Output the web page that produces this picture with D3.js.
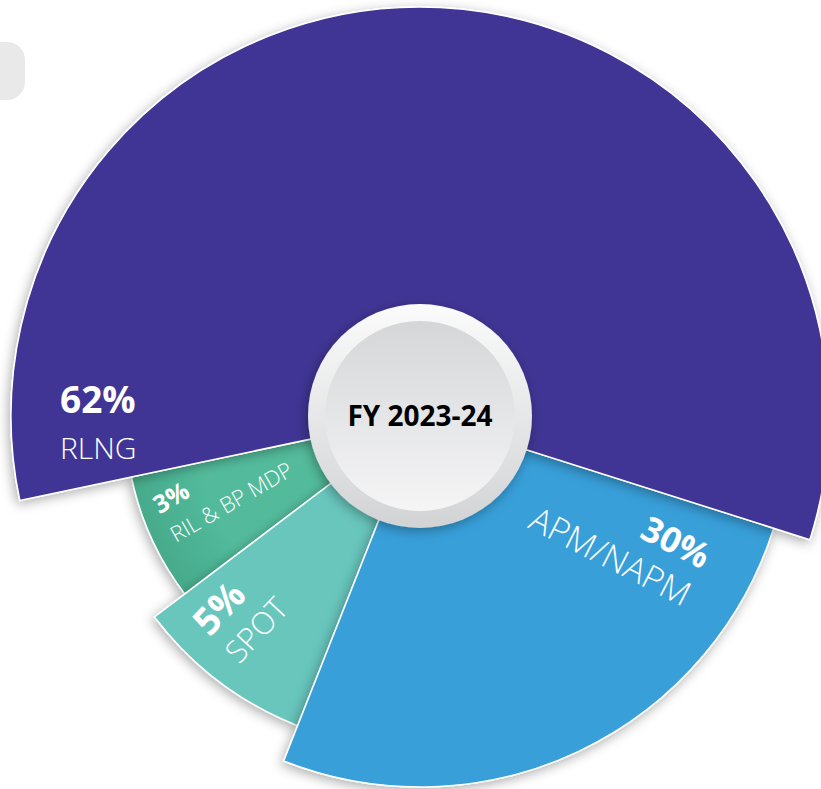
<!DOCTYPE html>
<html>
  <head>
    <style>
    body { margin: 0; background: #fff; }
    svg text { font-family: 'Open Sans', sans-serif; }
    </style>
  </head>
  <body>

    <svg width="821" height="789"></svg>

    <script src="https://cdn.jsdelivr.net/npm/d3@7/dist/d3.min.js"></script>
    <script>

      // data, clockwise from the RLNG / APM boundary
      const categories = ['APM/NAPM', 'SPOT', 'RIL & BP MDP', 'RLNG']
      const shares = [30, 5, 3, 62]
      const shareLabels = ['30%', '5%', '3%', '62%']
      // wedge widths as drawn in the picture (% of a full turn)
      const wedgeShares = [26.1, 8.7, 7.0, 58.2]
      const title = 'FY 2023-24'

      const colors = {
        'APM/NAPM': '#389fd9',
        'SPOT': '#67c6bd',
        'RIL & BP MDP': '#50b899',
        'RLNG': '#3f3594'
      }

      // label placement: anchor point, rotation, second-line offset
      const labelLayout = {
        'RLNG':         {x: 60,  y: 413, rot: 0,   anchor: 'start', pct: 37, name: 30, gap: 46,  pctFirst: true},
        'APM/NAPM':     {x: 683, y: 607, rot: 27,  anchor: 'end',   pct: 35, name: 34, gap: -42, pctFirst: false},
        'SPOT':         {x: 239, y: 665, rot: -47, anchor: 'start', pct: 38, name: 31, gap: -40, pctFirst: false},
        'RIL & BP MDP': {x: 176, y: 543, rot: -30, anchor: 'start', pct: 25, name: 22, gap: -33, pctFirst: false}
      }

      const svg = d3.select('svg')
      const cx = 420, cy = 416

      const data = categories.map((c, i) => ({
        name: c, value: shares[i], label: shareLabels[i], wedge: wedgeShares[i]
      }))

      const defs = svg.append('defs')
      const shadow = defs.append('filter').attr('id', 'shadow')
          .attr('x', '-30%').attr('y', '-30%').attr('width', '160%').attr('height', '160%')
      shadow.append('feDropShadow')
          .attr('dx', -2).attr('dy', 3).attr('stdDeviation', 6)
          .attr('flood-color', '#000').attr('flood-opacity', 0.32)

      const ringGrad = defs.append('linearGradient').attr('id', 'ring')
          .attr('x1', 0).attr('y1', 0).attr('x2', 0).attr('y2', 1)
      ringGrad.append('stop').attr('offset', '0%').attr('stop-color', '#fbfbfb')
      ringGrad.append('stop').attr('offset', '100%').attr('stop-color', '#d2d3d5')

      const discGrad = defs.append('linearGradient').attr('id', 'disc')
          .attr('x1', 0).attr('y1', 0).attr('x2', 0).attr('y2', 1)
      discGrad.append('stop').attr('offset', '0%').attr('stop-color', '#d5d6d8')
      discGrad.append('stop').attr('offset', '100%').attr('stop-color', '#f5f5f6')

      // darker rim on the small green wedge
      const rilGrad = defs.append('radialGradient').attr('id', 'rilGrad')
          .attr('gradientUnits', 'userSpaceOnUse').attr('cx', 0).attr('cy', 0).attr('r', 300)
      rilGrad.append('stop').attr('offset', '75%').attr('stop-color', '#52bb9b')
      rilGrad.append('stop').attr('offset', '100%').attr('stop-color', '#45a98a')

      // cropped grey tab in the top-left corner
      svg.append('rect')
          .attr('x', -20).attr('y', 42).attr('width', 45).attr('height', 58)
          .attr('rx', 18).attr('fill', '#e9e9ea')

      // outer radius by rank of share
      const rank = data.slice().sort((a, b) => a.value - b.value).map(d => d.name)
      const r = d3.scalePoint().domain(rank).range([295, 409])

      const pie = d3.pie()
          .sort(null)
          .value(d => d.wedge)
          .startAngle(107.6 * Math.PI / 180)
          .endAngle((107.6 + 360) * Math.PI / 180)

      const arc = d3.arc()
          .innerRadius(0)
          .outerRadius(d => r(d.data.name))

      const chart = svg.append('g')
          .attr('transform', 'translate(' + cx + ',' + cy + ')')

      const arcs = pie(data).sort((a, b) => a.data.value - b.data.value)

      chart.selectAll('.slice')
        .data(arcs, d => d.data.name)
        .enter().append('path')
          .attr('class', 'slice')
          .attr('d', arc)
          .attr('fill', d => d.data.name === 'RIL & BP MDP' ? 'url(#rilGrad)' : colors[d.data.name])
          .attr('stroke', '#fff')
          .attr('stroke-width', 1.5)
          .attr('stroke-linejoin', 'round')
          .attr('filter', 'url(#shadow)')

      // labels
      const labels = svg.selectAll('.label')
        .data(data)
        .enter().append('g')
          .attr('class', 'label')
          .attr('transform', d => {
            const l = labelLayout[d.name]
            return 'translate(' + l.x + ',' + l.y + ') rotate(' + l.rot + ')'
          })
          .attr('text-anchor', d => labelLayout[d.name].anchor)
          .attr('fill', '#fff')

      labels.append('text')
          .attr('y', d => labelLayout[d.name].pctFirst ? 0 : labelLayout[d.name].gap)
          .attr('font-size', d => labelLayout[d.name].pct)
          .attr('font-weight', 700)
          .text(d => d.label)

      labels.append('text')
          .attr('y', d => labelLayout[d.name].pctFirst ? labelLayout[d.name].gap : 0)
          .attr('font-size', d => labelLayout[d.name].name)
          .attr('font-weight', 300)
          .text(d => d.name)

      // centre button
      const hub = svg.append('g')
          .attr('transform', 'translate(' + cx + ',' + cy + ')')

      hub.append('circle')
          .attr('r', 112)
          .attr('fill', 'url(#ring)')
          .attr('filter', 'url(#shadow)')

      hub.append('circle')
          .attr('r', 95)
          .attr('fill', 'url(#disc)')

      hub.append('text')
          .attr('text-anchor', 'middle')
          .attr('y', 10)
          .attr('font-size', 28)
          .attr('font-weight', 700)
          .attr('fill', '#000')
          .text(title)

    </script>
  </body>
</html>
